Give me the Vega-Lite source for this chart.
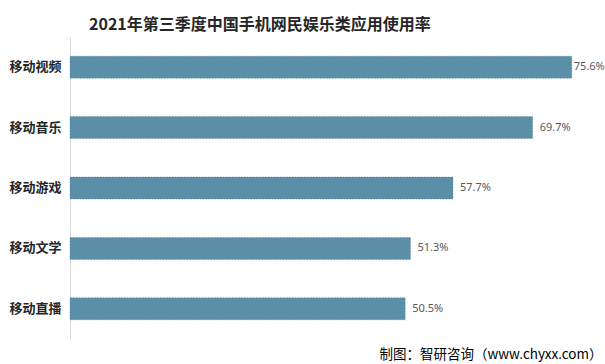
{
  "$schema": "https://vega.github.io/schema/vega-lite/v6.json",
  "width": 531,
  "height": 302,
  "autosize": {"type": "none"},
  "padding": {"left": 70, "top": 37, "right": 4, "bottom": 25},
  "background": "white",
  "title": {
    "text": "2021年第三季度中国手机网民娱乐类应用使用率",
    "font": "Noto Sans CJK SC",
    "fontSize": 16,
    "fontWeight": "bold",
    "color": "#262626",
    "anchor": "start",
    "dx": 80,
    "offset": 4
  },
  "data": {
    "values": [
      {"category": "移动视频", "value": 75.6, "label": "75.6%"},
      {"category": "移动音乐", "value": 69.7, "label": "69.7%"},
      {"category": "移动游戏", "value": 57.7, "label": "57.7%"},
      {"category": "移动文学", "value": 51.3, "label": "51.3%"},
      {"category": "移动直播", "value": 50.5, "label": "50.5%"}
    ]
  },
  "encoding": {
    "y": {
      "field": "category",
      "type": "nominal",
      "sort": null,
      "scale": {"paddingInner": 0.636, "paddingOuter": 0.318},
      "axis": {
        "title": null,
        "ticks": false,
        "domainColor": "#d9d9d9",
        "labelFont": "Noto Sans CJK SC",
        "labelFontSize": 13,
        "labelFontWeight": "bold",
        "labelColor": "#262626",
        "labelPadding": 9
      }
    },
    "x": {
      "field": "value",
      "type": "quantitative",
      "scale": {"domain": [0, 80], "nice": false},
      "axis": {
        "title": "制图：智研咨询（www.chyxx.com）",
        "titleFont": "Noto Sans CJK SC",
        "titleFontSize": 13.5,
        "titleFontWeight": "normal",
        "titleColor": "#000000",
        "titleX": 532,
        "titleAlign": "right",
        "titleBaseline": "alphabetic",
        "titleY": 19,
        "labels": false,
        "ticks": false,
        "domain": false,
        "grid": false
      }
    }
  },
  "layer": [
    {
      "mark": {
        "type": "bar",
        "color": "#5b8fa8",
        "stroke": "#4a7d95",
        "strokeWidth": 0.5,
        "strokeDash": [1.5, 1.5]
      }
    },
    {
      "transform": [{"filter": "datum.value < 75"}],
      "mark": {
        "type": "text",
        "align": "left",
        "dx": 7,
        "font": "Noto Sans",
        "fontSize": 11,
        "color": "#595959"
      },
      "encoding": {"text": {"field": "label"}}
    },
    {
      "transform": [{"filter": "datum.value >= 75"}],
      "mark": {
        "type": "text",
        "align": "left",
        "dx": 2,
        "font": "Noto Sans",
        "fontSize": 11,
        "color": "#595959"
      },
      "encoding": {"text": {"field": "label"}}
    }
  ],
  "config": {"view": {"stroke": null}}
}
